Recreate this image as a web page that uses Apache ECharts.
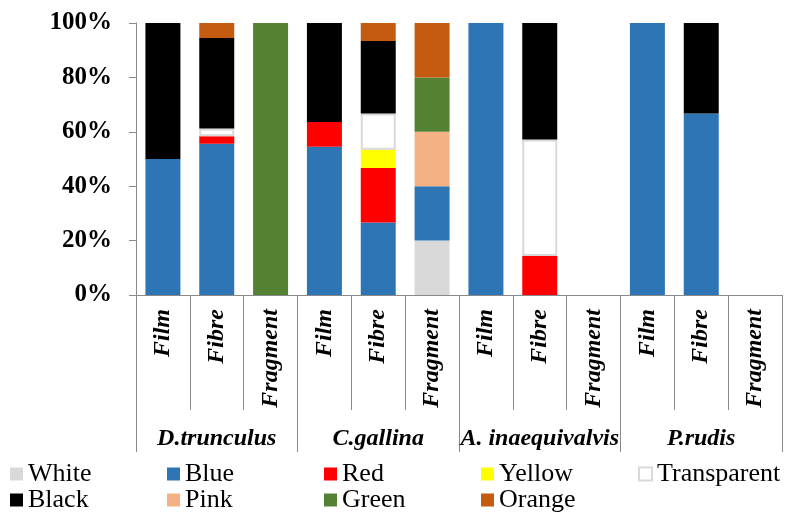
<!DOCTYPE html>
<html>
<head>
<meta charset="utf-8">
<script src="https://cdn.jsdelivr.net/npm/echarts@6/dist/echarts.min.js"></script>
<style>html,body{margin:0;padding:0;background:#fff;}#c{width:788px;height:514px;}</style>
</head>
<body>
<div id="c"></div>
<script>
// ---- data ----
var types = ['Film','Fibre','Fragment','Film','Fibre','Fragment','Film','Fibre','Fragment','Film','Fibre','Fragment'];
var species = ['D.trunculus','C.gallina','A. inaequivalvis','P.rudis'];
var yTicks = [0,20,40,60,80,100];
var white       = ['-','-','-','-','-',20,'-','-','-','-','-','-'];
var blue        = [50,55.6,'-',54.5,26.7,20,100,'-','-',100,66.7,'-'];
var red         = ['-',2.8,'-',9.1,20,'-','-',14.3,'-','-','-','-'];
var yellow      = ['-','-','-','-',6.7,'-','-','-','-','-','-','-'];
var transparent = ['-',2.8,'-','-',13.3,'-','-',42.9,'-','-','-','-'];
var black       = [50,33.3,'-',36.4,26.7,'-','-',42.8,'-','-',33.3,'-'];
var pink        = ['-','-','-','-','-',20,'-','-','-','-','-','-'];
var green       = ['-','-',100,'-','-',20,'-','-','-','-','-','-'];
var orange      = ['-',5.5,'-','-',6.6,20,'-','-','-','-','-','-'];

var FONT = "'Liberation Serif','Times New Roman',serif";
var AX = '#898989';

function mk(name, data, color, border) {
  var s = {
    name: name, type: 'bar', stack: 'total', data: data,
    barCategoryGap: '35%',
    itemStyle: { color: color }
  };
  if (border) { s.itemStyle.borderColor = border; s.itemStyle.borderWidth = 2; }
  return s;
}

var chart = echarts.init(document.getElementById('c'));
var legendText = { fontFamily: FONT, fontSize: 26, color: '#000', width: 128, lineHeight: 26, overflow: 'none' };
chart.setOption({
  animation: false,
  grid: { left: 136, right: 6, top: 23, bottom: 219 },
  legend: [
    { data: ['White','Blue','Red','Yellow','Transparent'], left: 10, top: 461, width: 785, padding: 0,
      orient: 'horizontal', icon: 'rect', itemWidth: 13, itemHeight: 13, itemGap: 11, itemTextGap: 7, textStyle: legendText },
    { data: ['Black','Pink','Green','Orange'], left: 10, top: 487, width: 785, padding: 0,
      orient: 'horizontal', icon: 'rect', itemWidth: 13, itemHeight: 13, itemGap: 11, itemTextGap: 7, textStyle: legendText }
  ],
  xAxis: [
    { type: 'category', data: types, position: 'bottom',
      axisLine: { lineStyle: { color: AX, width: 1 } },
      axisTick: { show: true, length: 115, lineStyle: { color: AX } },
      axisLabel: { interval: 0, rotate: 90, margin: 14, fontFamily: FONT, fontSize: 24,
        fontWeight: 'bold', fontStyle: 'italic', color: '#000' } },
    { type: 'category', data: species, position: 'bottom',
      axisLine: { lineStyle: { color: AX, width: 1 } },
      axisTick: { show: true, length: 157, lineStyle: { color: AX } },
      axisLabel: { interval: 0, margin: 132, fontFamily: FONT, fontSize: 24,
        fontWeight: 'bold', fontStyle: 'italic', color: '#000' } }
  ],
  yAxis: {
    type: 'value', min: yTicks[0], max: yTicks[yTicks.length-1], interval: 20,
    splitLine: { show: false },
    axisLine: { show: true, lineStyle: { color: AX } },
    axisTick: { show: true, length: 7, lineStyle: { color: AX } },
    axisLabel: { formatter: '{value}%', margin: 24, fontFamily: FONT, fontSize: 25,
      fontWeight: 'bold', color: '#000' }
  },
  series: [
    mk('White', white, '#d9d9d9'),
    mk('Blue', blue, '#2e75b6'),
    mk('Red', red, '#ff0000'),
    mk('Yellow', yellow, '#ffff00'),
    mk('Transparent', transparent, '#ffffff', '#d9d9d9'),
    mk('Black', black, '#000000'),
    mk('Pink', pink, '#f4b183'),
    mk('Green', green, '#548235'),
    mk('Orange', orange, '#c55a11')
  ]
});
</script>
</body>
</html>
